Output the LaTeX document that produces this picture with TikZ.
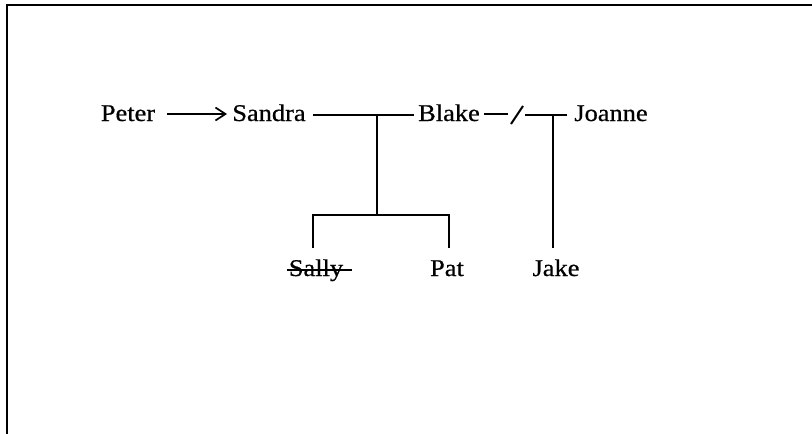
\documentclass[tikz,border=0pt]{standalone}
\usepackage{fontspec}
\setmainfont{Liberation Serif}[FakeStretch=1.1,FakeBold=0.7]
\usetikzlibrary{arrows.meta}
\tikzset{
  person/.style={anchor=base, inner sep=0pt, font=\fontsize{24}{28}\selectfont},
  link/.style={line width=1.7pt},
  frame/.style={line width=2pt}
}
\begin{document}
\begin{tikzpicture}[x=1pt,y=-1pt]
  \useasboundingbox (0,0) rectangle (812,434);
  % page frame (top and left edges)
  \draw[frame] (7,434) -- (7,5) -- (812,5);

  % people
  \node[person] (peter)  at (128,121) {Peter};
  \node[person] (sandra) at (269,121) {Sandra};
  \node[person] (blake)  at (449,121) {Blake};
  \node[person] (joanne) at (611,121) {Joanne};
  \node[person] (sally)  at (316,276) {Sally};
  \node[person] (pat)    at (447,276) {Pat};
  \node[person] (jake)   at (556,276) {Jake};

  % junction points
  \coordinate (arrowS) at (167,114);
  \coordinate (arrowE) at (227,114);
  \coordinate (mL) at (313,115);
  \coordinate (mR) at (414,115);
  \coordinate (mJ) at (377,115);
  \coordinate (kJ) at (377,215);
  \coordinate (kL) at (313,215);
  \coordinate (kR) at (449,215);
  \coordinate (kLb) at (313,248);
  \coordinate (kRb) at (449,248);
  \coordinate (dS) at (484,114);
  \coordinate (dE) at (508,114);
  \coordinate (slA) at (511,124);
  \coordinate (slB) at (523,106);
  \coordinate (tL) at (525,115);
  \coordinate (tR) at (567,115);
  \coordinate (tJ) at (553,115);
  \coordinate (tB) at (553,248);
  \coordinate (stS) at (287,270);
  \coordinate (stE) at (352,270);

  % Peter to Sandra
  \draw[link, -{Straight Barb[length=10pt,width=13pt,line width=1.7pt]}] (arrowS) -- (arrowE);
  % Sandra and Blake with their children
  \draw[link] (mL) -- (mR);
  \draw[link] (mJ) -- (kJ);
  \draw[link] (kLb) -- (kL) -- (kR) -- (kRb);
  % Blake and Joanne, separated
  \draw[line width=1.3pt] (dS) -- (dE);
  \draw[line width=2pt] (slA) -- (slB);
  \draw[link] (tL) -- (tR);
  \draw[line width=1.4pt] (tJ) -- (tB);
  % Sally crossed out
  \draw[link] (stS) -- (stE);
\end{tikzpicture}
\end{document}
